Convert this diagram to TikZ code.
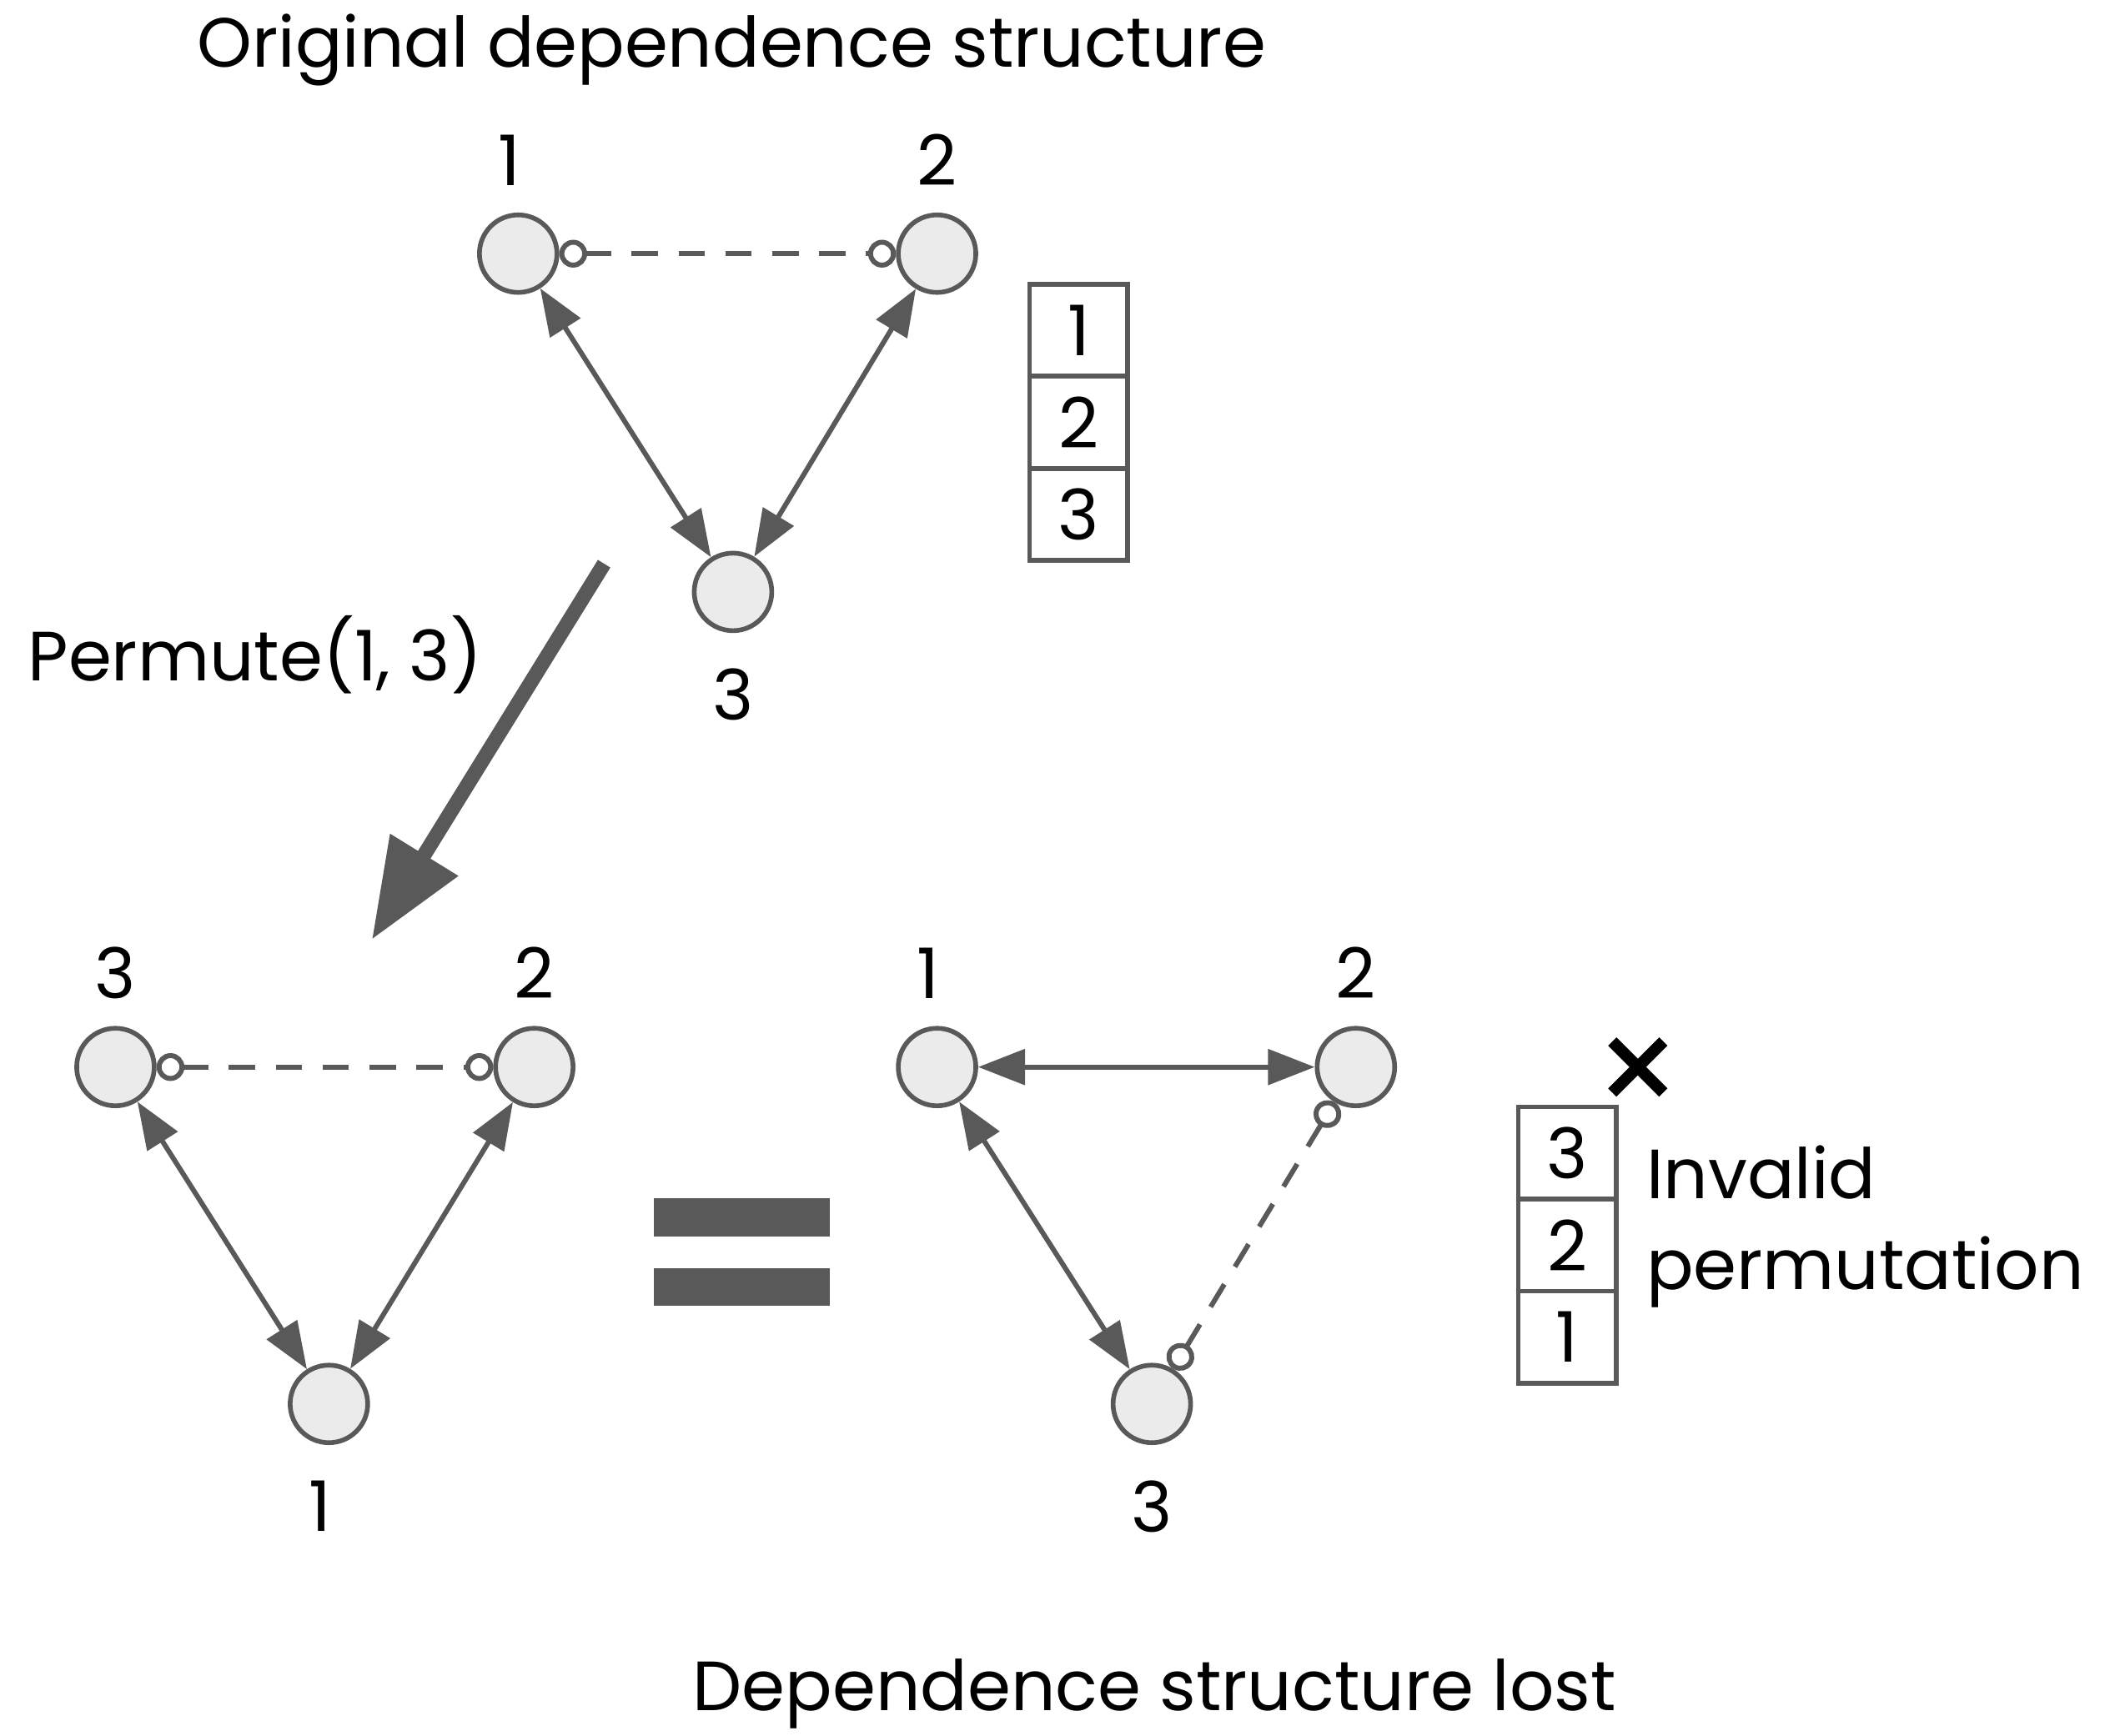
\documentclass[tikz,border=0pt]{standalone}
\usepackage{fontspec}
\setmainfont{Poppins}
\usetikzlibrary{positioning, arrows.meta}

\definecolor{edgegray}{HTML}{595959}
\definecolor{nodefill}{HTML}{EBEBEB}

\tikzset{
  var/.style={circle, draw=edgegray, fill=nodefill, line width=1.6pt, minimum size=0.93cm, inner sep=0pt},
  lbl/.style={inner sep=0pt, font=\fontsize{23.8}{31}\selectfont},
  bidir/.style={draw=edgegray, line width=1.7pt, {Triangle[length=16pt,width=12pt]}-{Triangle[length=16pt,width=12pt]}},
  conf/.style={draw=edgegray, line width=1.7pt, dash pattern=on 9pt off 7pt,
    {Circle[open,length=9.5pt,fill=white]}-{Circle[open,length=9.5pt,fill=white]}},
  cell/.style={draw=edgegray, line width=1.6pt, minimum width=1.175cm, minimum height=1.105cm,
    inner sep=0pt, outer sep=0pt, font=\fontsize{23.8}{31}\selectfont},
}

\begin{document}
\begin{tikzpicture}[x=0.016097cm, y=-0.016097cm]
    \useasboundingbox (0,0) rectangle (1568,1293);

    % Original graph
    \node[lbl] (title) at (545,37) {Original dependence structure};
    \node[var] (n1) at (386,189) {};
    \node[var] (n2) at (698,189) {};
    \node[var] (n3) at (546,441) {};
    \node[lbl, above=0.32cm of n1, xshift=-3pt] (l1) {1};
    \node[lbl, above=0.32cm of n2] (l2) {2};
    \node[lbl, below=0.42cm of n3] (l3) {3};
    \draw[conf] (n1) -- (n2);
    \draw[bidir] (n1) -- (n3);
    \draw[bidir] (n2) -- (n3);

    % Ordering 1,2,3
    \node[cell] (c1) at (803.5,246) {1};
    \node[cell, below=0pt of c1] (c2) {2};
    \node[cell, below=0pt of c2] (c3) {3};

    % Permutation arrow
    \coordinate (pstart) at (450,420);
    \coordinate (pend) at (277,700);
    \draw[edgegray, line width=5pt, -{Triangle[length=34pt,width=26pt]}] (pstart) -- (pend);
    \node[lbl] (perm) at (190,488) {Permute(1, 3)};

    % Permuted graph
    \node[var] (a3) at (86,795) {};
    \node[var] (a2) at (398,795) {};
    \node[var] (a1) at (245,1046) {};
    \node[lbl, above=0.32cm of a3] (k3) {3};
    \node[lbl, above=0.32cm of a2] (k2) {2};
    \node[lbl, below=0.42cm of a1, xshift=-3pt] (k1) {1};
    \draw[conf] (a3) -- (a2);
    \draw[bidir] (a3) -- (a1);
    \draw[bidir] (a2) -- (a1);

    % Equals sign
    \fill[edgegray] (487,893) rectangle (618,921);
    \fill[edgegray] (487,945) rectangle (618,973);

    % Same graph, relabelled
    \node[var] (b1) at (698,795) {};
    \node[var] (b2) at (1010,795) {};
    \node[var] (b3) at (858,1046) {};
    \node[lbl, above=0.32cm of b1, xshift=-3pt] (m1) {1};
    \node[lbl, above=0.32cm of b2] (m2) {2};
    \node[lbl, below=0.42cm of b3] (m3) {3};
    \draw[bidir] (b1) -- (b2);
    \draw[bidir] (b1) -- (b3);
    \draw[conf] (b2) -- (b3);

    % Ordering 3,2,1
    \node[cell] (d3) at (1167.5,859) {3};
    \node[cell, below=0pt of d3] (d2) {2};
    \node[cell, below=0pt of d2] (d1) {1};
    \draw[line width=4pt] (1201,776) -- (1239,814) (1201,814) -- (1239,776);
    \node[lbl, align=left, anchor=west] (inv) at (1226,914) {Invalid\\permutation};

    \node[lbl] (lost) at (860,1262) {Dependence structure lost};
\end{tikzpicture}
\end{document}
